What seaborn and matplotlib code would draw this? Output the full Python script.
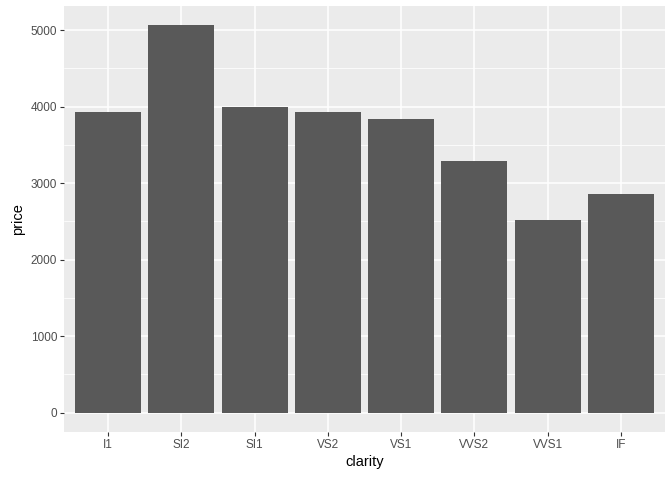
import numpy as np
import pandas as pd
import matplotlib
matplotlib.use("Agg")
import matplotlib.pyplot as plt
import seaborn as sns

clarity = ["I1", "SI2", "SI1", "VS2", "VS1", "VVS2", "VVS1", "IF"]
price = [3924.17, 5063.03, 3996.00, 3924.99, 3839.46, 3283.74, 2523.11, 2864.84]

df = pd.DataFrame({"clarity": clarity, "price": price})

sns.set_theme(style="darkgrid", rc={
    "axes.facecolor": "#EBEBEB",
    "grid.color": "white",
    "axes.edgecolor": "#EBEBEB",
})
plt.rcParams["font.family"] = ["Liberation Sans", "DejaVu Sans"]

fig = plt.figure(figsize=(6.72, 4.8), dpi=100)
ax = fig.add_axes([64 / 672, 48 / 480, 601 / 672, 426 / 480])

sns.barplot(data=df, x="clarity", y="price", order=clarity, color="#595959",
            width=0.9, saturation=1, linewidth=0, ax=ax, zorder=3)

ymax = max(price)
ax.set_xlim(-0.6, len(clarity) - 0.4)
ax.set_ylim(-0.05 * ymax, 1.05 * ymax)
ax.set_yticks([0, 1000, 2000, 3000, 4000, 5000])
ax.set_yticks([500, 1500, 2500, 3500, 4500], minor=True)

ax.grid(which="major", color="white", linewidth=1.1, zorder=0)
ax.grid(which="minor", axis="y", color="white", linewidth=0.55, zorder=0)
ax.set_axisbelow(True)
for s in ax.spines.values():
    s.set_visible(False)

ax.tick_params(which="major", length=3, width=0.8, color="#333333",
               labelcolor="#4D4D4D", labelsize=8.45, pad=2, left=True, bottom=True)
ax.tick_params(which="minor", length=0)
ax.set_xlabel("clarity", fontsize=10.56, color="black", labelpad=3)
ax.set_ylabel("price", fontsize=10.56, color="black", labelpad=4)

fig.savefig("out.png", dpi=100)
